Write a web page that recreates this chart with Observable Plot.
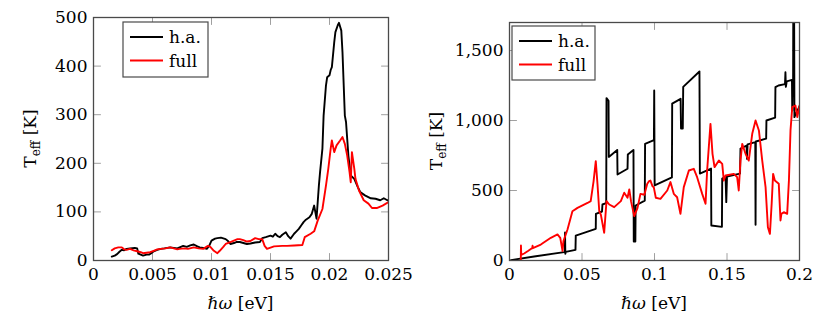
<!DOCTYPE html>
<html>
<head>
<meta charset="utf-8">
<script src="https://cdn.jsdelivr.net/npm/d3@7"></script>
<script src="https://cdn.jsdelivr.net/npm/@observablehq/plot@0.6"></script>
<style>
  html, body { margin: 0; padding: 0; background: #fff; }
  #wrap { display: flex; width: 830px; height: 324px; }
  #wrap > div { width: 415px; height: 324px; }
  svg text, svg tspan { font-family: "DejaVu Serif", "Liberation Serif", "Noto Serif", serif !important; }
</style>
</head>
<body>
<div id="wrap"><div id="left"></div><div id="right"></div></div>
<script>
// ---------- DATA ----------
const seriesNames = ["h.a.", "full"];
const seriesColors = ["#000000", "#ff0000"];

// Left panel (0 – 0.025 eV)
const leftXTicks = [0, 0.005, 0.01, 0.015, 0.02, 0.025];
const leftYTicks = [0, 100, 200, 300, 400, 500];
const leftHaX = [0.00155,0.0018,0.002,0.0022,0.0024,0.0026,0.0028,0.0031,0.0035,0.0037,0.0038,0.004,0.0042,0.0045,0.0047,0.0049,0.0051,0.0054,0.0057,0.006,0.0065,0.0068,0.0071,0.0074,0.0076,0.0079,0.0082,0.0085,0.0088,0.009,0.0093,0.0096,0.0098,0.01,0.0103,0.0105,0.0108,0.0112,0.0114,0.0116,0.0119,0.0121,0.0124,0.0127,0.013,0.0133,0.0137,0.0141,0.0143,0.0146,0.015,0.0152,0.0154,0.0156,0.0158,0.016,0.0163,0.0165,0.0167,0.017,0.0172,0.0174,0.0176,0.0178,0.018,0.0183,0.0185,0.0187,0.0189,0.0191,0.0192,0.0194,0.0195,0.0197,0.0198,0.02,0.0201,0.0202,0.0204,0.0205,0.0207,0.0208,0.021,0.0211,0.0213,0.0214,0.0216,0.0218,0.0221,0.0224,0.0226,0.023,0.0235,0.0239,0.0243,0.0246,0.0249,0.025];
const leftHaT = [8,10,13,18,22,21,24,25,26,25,14,12,10,12,12,15,19,22,24,25,27,26,25,28,30,28,31,33,29,27,26,24,30,41,45,46,47,44,40,34,36,38,38,36,34,35,37,38,46,48,51,49,55,50,48,53,58,50,45,55,60,65,72,79,84,89,96,113,86,154,182,230,298,360,377,381,392,398,449,470,484,489,473,429,298,285,216,175,168,151,141,134,128,127,124,128,124,124];
const leftFullX = [0.00155,0.0018,0.0021,0.0024,0.0026,0.0028,0.0031,0.0034,0.0037,0.004,0.0042,0.0045,0.0048,0.0051,0.0054,0.0057,0.0061,0.0065,0.0068,0.0071,0.0073,0.0077,0.008,0.0085,0.0089,0.0093,0.0097,0.0099,0.0102,0.0105,0.0107,0.011,0.0112,0.0116,0.0119,0.0122,0.0124,0.0127,0.013,0.0133,0.0137,0.014,0.0143,0.0145,0.0147,0.0153,0.016,0.0164,0.017,0.0177,0.0179,0.0184,0.0187,0.019,0.0194,0.0197,0.0199,0.0201,0.0202,0.0204,0.0206,0.0209,0.0211,0.0213,0.0215,0.0217,0.0218,0.0219,0.0221,0.0222,0.0225,0.0229,0.0233,0.0236,0.024,0.0245,0.025];
const leftFullT = [21,25,27,27,23,22,24,21,19,17,15,16,17,20,23,24,25,27,25,23,24,25,24,27,25,24,30,28,20,15,20,28,34,38,41,44,44,42,39,40,46,44,44,30,24,29,30,30,31,32,48,55,60,82,106,154,189,230,247,223,237,247,254,240,216,182,161,223,189,168,144,124,117,108,108,113,120];

// Right panel (0 – 0.2 eV)
const rightXTicks = [0, 0.05, 0.1, 0.15, 0.2];
const rightYTicks = [0, 500, 1000, 1500];
const rightHaX = [0.001,0.017,0.0377,0.0382,0.0383,0.0385,0.0388,0.0455,0.0457,0.0595,0.0596,0.0638,0.0641,0.0667,0.0669,0.0683,0.0685,0.0743,0.0745,0.0814,0.0816,0.0855,0.0857,0.0868,0.087,0.0933,0.0935,0.0996,0.0998,0.1001,0.112,0.1122,0.118,0.1183,0.1195,0.1198,0.131,0.1313,0.139,0.1392,0.1465,0.1467,0.149,0.1495,0.15,0.159,0.1593,0.1635,0.1638,0.1642,0.1695,0.1697,0.1699,0.177,0.1772,0.1832,0.1834,0.1855,0.19,0.1903,0.1906,0.1912,0.1948,0.195,0.1953,0.1956,0.1957,0.1963,0.1965,0.198,0.2];
const rightHaT = [3,29,60,62,200,48,62,76,178,226,333,350,400,410,1160,1140,740,790,614,655,757,790,135,135,393,428,833,860,1214,536,593,1121,1155,943,943,1240,1350,621,657,250,240,586,600,417,600,621,800,820,726,830,845,255,850,870,1000,1020,1238,1250,1260,1345,1240,1280,1290,1071,1290,1290,1760,1760,1024,1060,1100];
const rightFullX = [0.0078,0.0079,0.0081,0.0101,0.013,0.0157,0.0159,0.0161,0.0216,0.0285,0.0331,0.035,0.0366,0.0372,0.04,0.0434,0.0469,0.0538,0.056,0.058,0.0595,0.0607,0.0619,0.063,0.0653,0.0669,0.0688,0.0722,0.0768,0.0791,0.0814,0.0826,0.0838,0.086,0.0883,0.0903,0.093,0.095,0.0963,0.0972,0.0986,0.0995,0.1009,0.1041,0.1088,0.111,0.1133,0.1156,0.1179,0.1202,0.1237,0.1271,0.1294,0.1329,0.1352,0.1363,0.1386,0.14,0.1414,0.1444,0.1467,0.1478,0.149,0.1547,0.157,0.1581,0.1593,0.1605,0.1628,0.165,0.1674,0.1697,0.172,0.1743,0.1766,0.1782,0.1796,0.1808,0.1818,0.183,0.1857,0.1869,0.1875,0.1892,0.1915,0.1927,0.1938,0.195,0.1972,0.1985,0.2];
const rightFullT = [5,107,40,50,70,90,105,88,114,162,186,162,67,138,221,352,376,411,424,567,710,543,352,328,198,424,400,381,424,484,448,508,424,317,376,476,470,548,567,571,531,524,448,440,500,560,476,452,333,524,643,655,595,476,405,643,976,762,667,714,690,571,607,619,595,500,714,833,762,714,905,1000,929,714,524,238,190,405,619,571,548,286,333,345,333,571,929,1095,1107,1024,1107];

// ---------- DRAWING ----------
const FONT = "DejaVu Serif, Liberation Serif, Noto Serif, serif";
const tickShape = { draw(ctx, l) { ctx.moveTo(0, 0); ctx.lineTo(0, -l); } };
const zip = (xs, ys) => xs.map((x, i) => ({x, y: ys[i]}));

function panel(cfg) {
  const tickStyle = {length: 7, anchor: "start", shape: tickShape, stroke: "#a0a0a0", strokeWidth: 1};
  const svg = Plot.plot({
    width: 415, height: 324,
    marginLeft: cfg.ml, marginRight: cfg.mr, marginTop: cfg.mt, marginBottom: 64,
    style: {fontFamily: FONT, fontSize: "17px", color: "#000", background: "#fff", overflow: "visible"},
    x: {domain: cfg.xd, label: null},
    y: {domain: cfg.yd, label: null},
    marks: [
      Plot.vector(cfg.xt, {x: d => d, frameAnchor: "bottom", rotate: 0, ...tickStyle}),
      Plot.vector(cfg.xt, {x: d => d, frameAnchor: "top", rotate: 180, ...tickStyle}),
      Plot.vector(cfg.yt, {y: d => d, frameAnchor: "left", rotate: 90, ...tickStyle}),
      Plot.vector(cfg.yt, {y: d => d, frameAnchor: "right", rotate: -90, ...tickStyle}),
      Plot.axisX({ticks: cfg.xt, tickSize: 0, tickPadding: 7, tickFormat: d => String(d), fill: "#000"}),
      Plot.axisY({ticks: cfg.yt, tickSize: 0, tickPadding: 6, tickFormat: cfg.yf, fill: "#000"}),
      Plot.line(zip(cfg.haX, cfg.haT), {x: "x", y: "y", stroke: seriesColors[0], strokeWidth: 1.9, clip: true}),
      Plot.line(zip(cfg.fullX, cfg.fullT), {x: "x", y: "y", stroke: seriesColors[1], strokeWidth: 1.9, clip: true}),
      Plot.frame({stroke: "#4a4a4a", strokeWidth: 1.3})
    ]
  });
  const s = d3.select(svg);
  const W = 415, H = 324;
  const cx = cfg.ml + (W - cfg.ml - cfg.mr) / 2;
  const cy = cfg.mt + (H - 64 - cfg.mt) / 2;
  // x title
  const xt = s.append("text").attr("x", cx).attr("y", 309).attr("text-anchor", "middle")
    .attr("font-family", FONT).attr("font-size", 17).attr("fill", "#000");
  xt.append("tspan").attr("font-style", "italic").text("ℏω");
  xt.append("tspan").text(" [eV]");
  // y title
  const yt = s.append("text").attr("transform", `translate(${cfg.ytx},${cy}) rotate(-90)`)
    .attr("text-anchor", "middle").attr("font-family", FONT).attr("font-size", 17).attr("fill", "#000");
  yt.append("tspan").text("T");
  yt.append("tspan").attr("font-size", 12).attr("dy", 4).text("eff");
  yt.append("tspan").attr("dy", -4).text(" [K]");
  // legend
  const L = cfg.leg;
  const g = s.append("g").attr("text-anchor", "start");
  g.append("rect").attr("x", L.x).attr("y", L.y).attr("width", L.w).attr("height", L.h)
    .attr("fill", "#fff").attr("stroke", "#4a4a4a").attr("stroke-width", 1.2);
  seriesNames.forEach((name, i) => {
    const ly = L.y + 15 + i * 23.5;
    g.append("line").attr("x1", L.x + 7).attr("x2", L.x + 40).attr("y1", ly).attr("y2", ly)
      .attr("stroke", seriesColors[i]).attr("stroke-width", 2.2);
    g.append("text").attr("x", L.x + 46).attr("y", ly + 6).attr("text-anchor", "start")
      .attr("font-family", FONT).attr("font-size", 17).attr("fill", "#000").text(name);
  });
  return svg;
}

document.getElementById("left").append(panel({
  ml: 93, mr: 27, mt: 17, xd: [0, 0.025], yd: [0, 500], xt: leftXTicks, yt: leftYTicks,
  yf: d => String(d), haX: leftHaX, haT: leftHaT, fullX: leftFullX, fullT: leftFullT,
  ytx: 36, leg: {x: 123, y: 22, w: 85, h: 55}
}));
document.getElementById("right").append(panel({
  ml: 94, mr: 31, mt: 22, xd: [0, 0.2], yd: [0, 1700], xt: rightXTicks, yt: rightYTicks,
  yf: d3.format(","), haX: rightHaX, haT: rightHaT, fullX: rightFullX, fullT: rightFullT,
  ytx: 27, leg: {x: 97, y: 26, w: 83, h: 54}
}));
</script>
</body>
</html>
